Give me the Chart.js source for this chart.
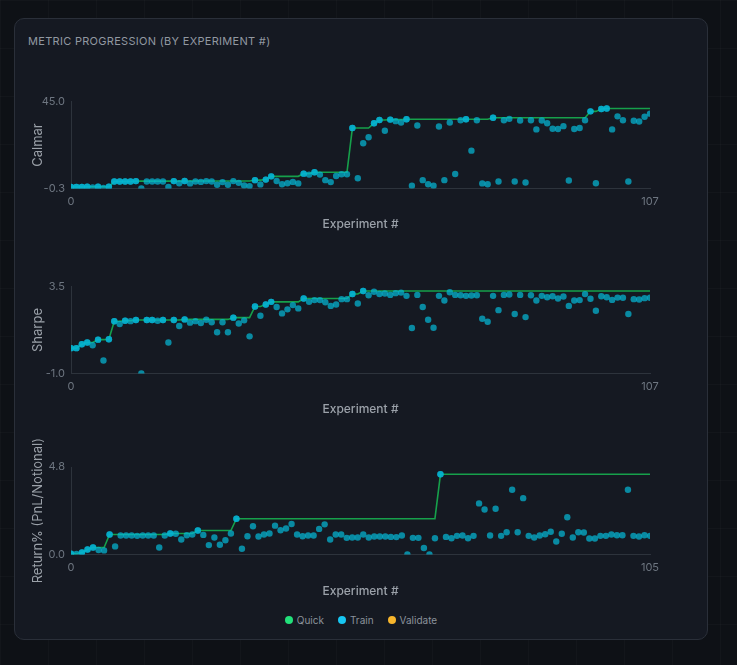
<!DOCTYPE html>
<html>
<head>
<meta charset="utf-8">
<script src="https://cdn.jsdelivr.net/npm/chart.js@4"></script>
<style>
html, body { margin: 0; padding: 0; }
body {
    width: 737px; height: 665px; overflow: hidden; position: relative;
    background-color: #0e1116;
    background-image: linear-gradient(rgba(255,255,255,0.018) 1px, transparent 1px),
                      linear-gradient(90deg, rgba(255,255,255,0.018) 1px, transparent 1px);
    background-size: 48px 48px;
    font-family: Inter, 'Noto Sans', sans-serif;
}
.card {
    position: absolute; left: 14px; top: 18px; width: 692px; height: 620px;
    background: #151922; border: 1px solid #2a2f39; border-radius: 10px;
}
.card-title {
    position: absolute; left: 13px; top: 15px;
    font-size: 11px; letter-spacing: 0.3px; color: #9198a1;
}
.plot { position: absolute; left: 0; width: 692px; height: 147px; }
.legend {
    position: absolute; left: 0; width: 692px; top: 595px;
    display: flex; justify-content: center; gap: 14px;
    font-size: 10px; color: #8b929b;
}
.legend span { display: flex; align-items: center; }
.legend i { display: inline-block; width: 8px; height: 8px; border-radius: 50%; margin-right: 4px; }
</style>
</head>
<body>
<div class="card">
    <div class="card-title">METRIC PROGRESSION (BY EXPERIMENT #)</div>
    <div class="plot" style="top:70px"><canvas id="calmarChart"></canvas></div>
    <div class="plot" style="top:255px"><canvas id="sharpeChart"></canvas></div>
    <div class="plot" style="top:407px; height:177px"><canvas id="returnChart"></canvas></div>
    <div class="legend">
        <span><i style="background:#22e07a"></i>Quick</span>
        <span><i style="background:#17c6f2"></i>Train</span>
        <span><i style="background:#f7b52c"></i>Validate</span>
    </div>
</div>
<script>
// values per experiment
const calmar = [0.4, 0.4, 0.4, 0.55, 0.2, 0.55, -0.1, 0.55, 3.3, 3.3, 3.3, 3.3, 3.5, -0.3, 3.3, 3.3, 3.3, 3.3,
    0.4, 3.5, 2.4, 3.6, 2.3, 3.3, 3.1, 3.5, 3.3, 1.6, 3.0, 1.6, 3.5, 2.6, 1.2, 0.9, 4.0, 1.8, 4.3, 6.0,
    3.6, 1.9, 2.4, 3.1, 2.3, 7.4, 6.9, 8.1, 6.9, 4.0, 3.0, 6.2, 7.1, 7.1, 31.2, 5.0, 23.3, 26.4, 33.7, 35.4,
    29.8, 35.6, 34.8, 34.1, 35.8, 1.1, 32.5, 4.0, 1.9, 1.1, 32.0, 4.0, 34.1, 7.2, 35.3, 35.8, 19.4, 35.3, 2.3, 1.9,
    36.6, 3.3, 35.3, 36.0, 3.3, 35.1, 2.8, 35.3, 30.5, 35.1, 33.7, 30.8, 30.7, 32.2, 3.8, 30.7, 31.2, 35.3, 39.9, 2.4,
    41.1, 41.4, 30.5, 37.3, 35.3, 3.3, 35.0, 34.6, 37.1, 38.7];

const sharpe = [0.31, 0.31, 0.51, 0.60, 0.46, 0.75, -0.33, 0.77, 1.70, 1.56, 1.73, 1.71, 1.77, -1.0, 1.77, 1.77, 1.73, 1.77,
    0.60, 1.77, 1.46, 1.80, 1.63, 1.71, 1.61, 1.78, 1.65, 1.13, 1.65, 1.13, 1.89, 1.59, 1.75, 0.92, 2.47, 1.99, 2.57, 2.71,
    2.44, 2.11, 2.32, 2.54, 2.37, 2.88, 2.71, 2.80, 2.80, 2.69, 2.50, 2.57, 2.85, 2.85, 3.12, 2.62, 3.27, 3.05, 3.23, 3.12,
    3.14, 3.07, 3.16, 3.19, 3.02, 1.35, 3.07, 2.44, 1.78, 1.37, 3.02, 2.78, 3.21, 3.07, 3.05, 3.02, 3.04, 3.05, 1.83, 1.68,
    3.02, 2.28, 3.07, 3.09, 2.08, 3.07, 1.92, 3.05, 2.78, 3.02, 2.95, 3.00, 2.88, 2.99, 2.50, 2.78, 2.80, 3.11, 2.87, 2.25,
    3.00, 2.95, 2.81, 2.93, 2.92, 2.08, 2.85, 2.83, 2.90, 2.92];

const returnPct = [0.04, 0.02, 0.11, 0.27, 0.38, 0.24, 0.22, 1.09, 0.44, 1.04, 1.04, 1.04, 1.02, 1.04, 1.04, 1.04, 0.38, 1.04,
    1.15, 1.13, 0.82, 1.05, 1.09, 1.31, 1.07, 0.51, 0.93, 0.53, 0.78, 1.15, 1.96, 0.31, 1.00, 1.55, 0.98, 1.09, 1.15, 1.58,
    1.33, 1.42, 1.67, 1.09, 1.00, 1.04, 1.04, 1.40, 1.65, 0.82, 1.09, 1.09, 0.91, 0.93, 0.93,
    1.09, 0.93, 0.98, 0.98, 0.98, 0.96, 0.95, 1.04, 0.0, 0.91, 0.91, 0.35, 0.0, 0.89, 4.40, 0.96, 0.89, 1.02,
    1.04, 0.89, 1.02, 2.80, 2.47, 1.04, 2.51, 1.02, 1.22, 3.55, 1.22, 3.09, 1.02, 0.93, 1.04, 1.11, 1.24, 0.71,
    1.13, 2.04, 0.93, 1.22, 1.20, 0.87, 0.87, 1.02, 1.02, 1.09, 1.05, 1.05, 3.55, 1.02, 0.98, 1.05, 1.02];

// axis tick labels (only the ends are shown)
const calmarTicks = [-0.3, 45.0];
const sharpeTicks = [-1.0, 3.5];
const returnTicks = [0.0, 4.8];
const calmarXTicks = [0, 107];
const sharpeXTicks = [0, 107];
const returnXTicks = [0, 105];

const pointColor = 'rgba(6, 182, 212, 0.72)';
const lineColor = '#16a04b';
const axisColor = '#2d333c';
const labelColor = '#9ba1a9';
const tickColor = '#6e7681';

Chart.defaults.font.family = "Inter, 'Noto Sans', sans-serif";

function makeChart(id, values, yLabel, yTicks, xTicks, padTop, tickPad) {
    const points = values.map((v, i) => ({ x: i, y: v }));
    // best-so-far line
    let best = -Infinity;
    const bestLine = values.map((v, i) => {
        best = Math.max(best, v);
        return { x: i, y: best };
    });

    return new Chart(document.getElementById(id).getContext('2d'), {
        type: 'scatter',
        data: {
            datasets: [
                {
                    label: 'Train',
                    data: points,
                    backgroundColor: pointColor,
                    borderWidth: 0,
                    pointRadius: 3.2,
                    order: 0
                },
                {
                    type: 'line',
                    label: 'Best',
                    data: bestLine,
                    borderColor: lineColor,
                    borderWidth: 1.6,
                    tension: 0,
                    fill: false,
                    pointRadius: ctx => (values[ctx.dataIndex] === bestLine[ctx.dataIndex].y ? 3.2 : 0),
                    pointBackgroundColor: pointColor,
                    pointBorderWidth: 0,
                    order: 1
                }
            ]
        },
        options: {
            responsive: true,
            maintainAspectRatio: false,
            animation: false,
            layout: { padding: { top: padTop, left: 11, right: 57, bottom: 0 } },
            plugins: {
                legend: { display: false },
                tooltip: { enabled: false }
            },
            scales: {
                x: {
                    type: 'linear',
                    min: xTicks[0],
                    max: xTicks[1],
                    grid: { display: false, drawTicks: false },
                    border: { display: true, color: axisColor, width: 1 },
                    afterBuildTicks: axis => { axis.ticks = xTicks.map(v => ({ value: v })); },
                    ticks: {
                        color: tickColor,
                        font: { size: 11 },
                        padding: tickPad,
                        maxRotation: 0,
                        callback: v => String(v)
                    },
                    title: {
                        display: true,
                        text: 'Experiment #',
                        color: labelColor,
                        font: { size: 12, weight: 500 },
                        padding: { top: 3, bottom: 4 }
                    }
                },
                y: {
                    min: yTicks[0],
                    max: yTicks[1],
                    grid: { display: false, drawTicks: false },
                    border: { display: true, color: axisColor, width: 1 },
                    afterBuildTicks: axis => { axis.ticks = yTicks.map(v => ({ value: v })); },
                    afterFit: axis => { axis.width = 45; },
                    ticks: {
                        color: tickColor,
                        font: { size: 11 },
                        padding: 6,
                        callback: v => Number(v).toFixed(1)
                    },
                    title: {
                        display: true,
                        text: yLabel,
                        color: labelColor,
                        font: { size: 13 },
                        padding: { top: 4, bottom: 4 }
                    }
                }
            }
        }
    });
}

document.addEventListener('DOMContentLoaded', () => {
    makeChart('calmarChart', calmar, 'Calmar', calmarTicks, calmarXTicks, 10, 6.5);
    makeChart('sharpeChart', sharpe, 'Sharpe', sharpeTicks, sharpeXTicks, 10, 6.5);
    makeChart('returnChart', returnPct, 'Return% (PnL/Notional)', returnTicks, returnXTicks, 41, 7);
});
</script>
</body>
</html>
